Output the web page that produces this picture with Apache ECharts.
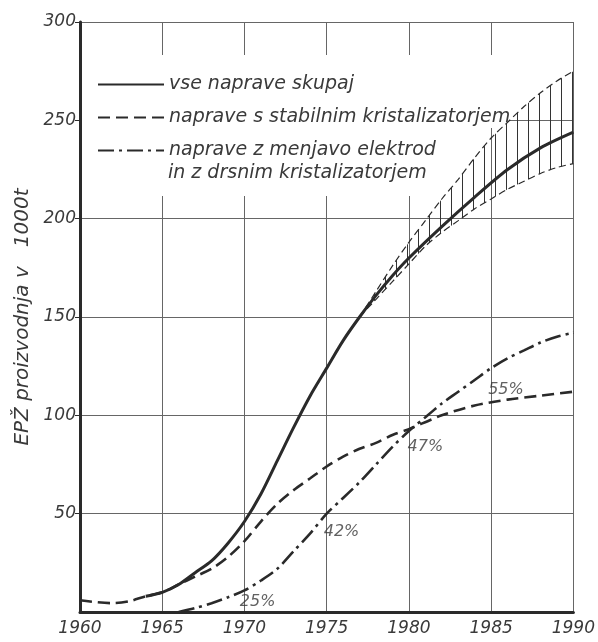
<!DOCTYPE html>
<html><head><meta charset="utf-8">
<script src="https://cdn.jsdelivr.net/npm/echarts@6/dist/echarts.min.js"></script>
<style>html,body{margin:0;padding:0;background:#fff}#c{width:598px;height:642px}</style>
</head><body><div id="c"></div>
<script>
// ---- data ----
const seriesNames = ['vse naprave skupaj', 'naprave s stabilnim kristalizatorjem', 'naprave z menjavo elektrod'];
const legendExtraLine = 'in z drsnim kristalizatorjem';
const yAxisTitle = 'EPŽ proizvodnja v   1000t';

const totalYears  = [1964, 1965, 1966, 1967, 1968, 1969, 1970, 1971, 1972, 1973, 1974, 1975, 1976, 1977, 1978, 1979, 1980, 1982, 1984, 1986, 1988, 1990];
const totalValues = [8,    10,   14,   20,   26,   35,   46,   60,   77,   94,   110,  124,  138,  150,  161,  171,  180,  196,  211,  225,  236,  244];

const stableYears  = [1960, 1961, 1962, 1963, 1964, 1965, 1966, 1967, 1968, 1969, 1970, 1971, 1972, 1973, 1974, 1975, 1976, 1977, 1978, 1979, 1980, 1982, 1984, 1986, 1988, 1990];
const stableValues = [6,    5,    4.5,  5.5,  8,    10,   14,   18,   22,   28,   36,   46,   55,   62,   68,   74,   79,   83,   86,   90,   93,   100,  105,  108,  110,  112];

const electrodeYears  = [1966, 1967, 1968, 1969, 1970, 1971, 1972, 1973, 1974, 1975, 1976, 1977, 1978, 1979, 1980, 1981, 1982, 1983, 1984, 1985, 1986, 1987, 1988, 1989, 1990];
const electrodeValues = [0,    2,    4.5,  7.5,  11,   16,   22,   31,   40,   50,   58,   66,   75,   84,   92,   99,   106,  112,  118,  124,  129,  133,  137,  140,  142];

const bandYears = [1977, 1978, 1979, 1980, 1981, 1982, 1983, 1984, 1985, 1986, 1987, 1988, 1989, 1990];
const bandUpper = [150,  163,  176,  188,  199,  210,  220,  231,  241,  249,  257,  264,  270,  275];
const bandLower = [150,  159,  168,  177,  186,  193,  199,  205,  210,  215,  219,  223,  226,  228];

const pctLabels = ['25%', '42%', '47%', '55%'];
const pctYears  = [1970.8, 1975.9, 1981.0, 1985.9];
const pctValues = [5, 41, 84, 113];

// ---- style ----
const FONT = 'DejaVu Sans';
const INK = '#2a2a2a';
const TXT = '#3a3a3a';

const pat = document.createElement('canvas');
pat.width = 11; pat.height = 11;
(function(){ const g = pat.getContext('2d'); g.strokeStyle = '#333'; g.lineWidth = 1; g.beginPath(); g.moveTo(0.5,0); g.lineTo(0.5,11); g.stroke(); })();

const zip = (xs, ys) => xs.map((x, i) => [x, ys[i]]);

const chart = echarts.init(document.getElementById('c'), null, {renderer: 'canvas'});
chart.setOption({
  animation: false,
  backgroundColor: '#fff',
  grid: {left: 80, right: 20, top: 22, bottom: 30, containLabel: false},
  xAxis: {
    type: 'value', min: 1960, max: 1990, interval: 5,
    axisLine: {show: true, lineStyle: {color: INK, width: 3}},
    axisTick: {show: false},
    splitLine: {show: true, lineStyle: {color: '#666', width: 1}},
    axisLabel: {formatter: v => String(v), color: TXT, fontFamily: FONT, fontStyle: 'italic', fontSize: 17, margin: 8}
  },
  yAxis: {
    type: 'value', min: 0, max: 300, interval: 50,
    name: yAxisTitle, nameLocation: 'middle', nameRotate: 90, nameGap: 46,
    nameTextStyle: {color: TXT, fontFamily: FONT, fontStyle: 'italic', fontSize: 20},
    axisLine: {show: true, lineStyle: {color: INK, width: 3}},
    axisTick: {show: true, length: 5, lineStyle: {color: INK}},
    splitLine: {show: true, lineStyle: {color: '#666', width: 1}},
    axisLabel: {showMinLabel: false, color: TXT, fontFamily: FONT, fontStyle: 'italic', fontSize: 17, margin: 4}
  },
  legend: {
    orient: 'vertical', left: 82, top: 55, padding: [20, 8, 6, 15],
    itemWidth: 66, itemHeight: 14, itemGap: 14,
    itemStyle: {opacity: 0},
    textStyle: {color: TXT, fontFamily: FONT, fontStyle: 'italic', fontSize: 19},
    data: seriesNames
  },
  graphic: [
    {type: 'rect', z: 1, left: 82, top: 55, shape: {width: 428, height: 73}, style: {fill: '#fff'}},
    {type: 'rect', z: 1, left: 82, top: 128, shape: {width: 363, height: 68}, style: {fill: '#fff'}},
    {type: 'text', z: 100, left: 168, top: 164,
     style: {text: legendExtraLine, fill: TXT, font: 'italic 19px "DejaVu Sans"'}}
  ],
  series: [
    {
      type: 'custom', name: 'band', silent: true, z: 2,
      data: bandYears.map((y, i) => [y, bandLower[i], bandUpper[i]]),
      encode: {x: 0, y: [1, 2]},
      renderItem: (params, api) => {
        const i = params.dataIndex;
        if (i >= bandYears.length - 1) return null;
        const pts = [
          api.coord([bandYears[i], bandLower[i]]),
          api.coord([bandYears[i + 1], bandLower[i + 1]]),
          api.coord([bandYears[i + 1], bandUpper[i + 1]]),
          api.coord([bandYears[i], bandUpper[i]])
        ];
        return {type: 'polygon', shape: {points: pts}, style: {fill: {image: pat, repeat: 'repeat'}, stroke: null}};
      }
    },
    {type: 'line', name: 'bandUpper', data: zip(bandYears, bandUpper), symbol: 'none', smooth: 0.3, silent: true,
     lineStyle: {color: INK, width: 1.2, type: [7, 4]}},
    {type: 'line', name: 'bandLower', data: zip(bandYears, bandLower), symbol: 'none', smooth: 0.3, silent: true,
     lineStyle: {color: INK, width: 1.2, type: [7, 4]}},
    {type: 'line', name: seriesNames[0], data: zip(totalYears, totalValues), symbol: 'none', smooth: 0.3,
     lineStyle: {color: INK, width: 3}, itemStyle: {color: INK}},
    {type: 'line', name: seriesNames[1], data: zip(stableYears, stableValues), symbol: 'none', smooth: 0.3,
     lineStyle: {color: INK, width: 2.6, type: [12, 6]}, itemStyle: {color: INK}},
    {type: 'line', name: seriesNames[2], data: zip(electrodeYears, electrodeValues), symbol: 'none', smooth: 0.3,
     lineStyle: {color: INK, width: 2.6, type: [16, 5, 3, 5]}, itemStyle: {color: INK}},
    {type: 'scatter', name: 'pct', silent: true, symbolSize: 0,
     data: pctYears.map((x, i) => ({value: [x, pctValues[i]], name: pctLabels[i]})),
     label: {show: true, position: 'inside', formatter: p => p.name, color: TXT, fontFamily: FONT, fontStyle: 'italic', fontSize: 16}}
  ]
});
</script></body></html>
